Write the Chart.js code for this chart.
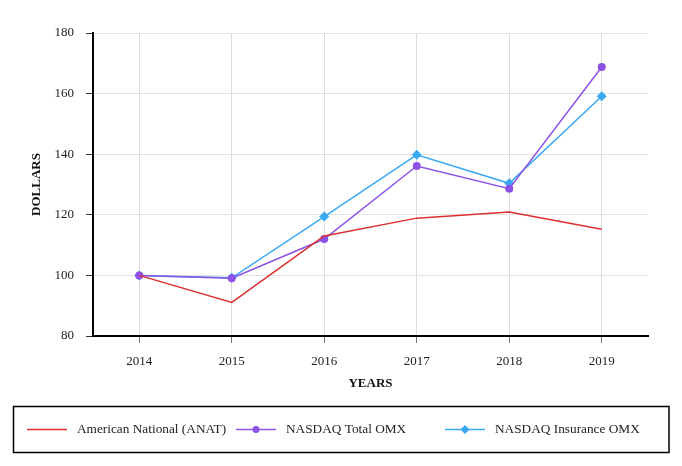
<!DOCTYPE html>
<html>
<head>
<meta charset="utf-8">
<style>
  html, body { margin: 0; padding: 0; background: #fff; }
  #wrap { width: 682px; height: 466px; }
</style>
<script src="https://cdn.jsdelivr.net/npm/chart.js@4.4.0/dist/chart.umd.min.js"></script>
</head>
<body>
<div id="wrap"><canvas id="myChart" width="682" height="466"></canvas></div>
<script>
// data
const years = ['2014', '2015', '2016', '2017', '2018', '2019'];
const anat = [100, 91.1, 113.0, 118.9, 120.9, 115.2];
const nasdaqTotal = [100, 99.1, 112.0, 136.1, 128.6, 168.8];
const nasdaqInsurance = [100, 99.2, 119.4, 139.8, 130.4, 159.1];
const yTicks = [80, 100, 120, 140, 160, 180];

const FONT = '"Liberation Serif", "Times New Roman", serif';
const RED = '#dc2f2f';
const PURPLE = '#8c52e6';
const BLUE = '#3aa9f2';

// legend in a box under the chart, drawn on the canvas
const boxLegend = {
    id: 'boxLegend',
    afterDraw(chart) {
        const ctx = chart.ctx;
        ctx.save();
        ctx.strokeStyle = '#000';
        ctx.lineWidth = 1.5;
        ctx.strokeRect(13.5, 406.5, 655.5, 46);

        const y = 429.5;
        chart.data.datasets.forEach((ds, i) => {
            const x0 = 27 + i * 209;
            ctx.strokeStyle = ds.borderColor;
            ctx.lineWidth = 1.5;
            ctx.beginPath();
            ctx.moveTo(x0, y);
            ctx.lineTo(x0 + 40, y);
            ctx.stroke();
            if (ds.pointRadius > 0) {
                ctx.fillStyle = ds.borderColor;
                const cx = x0 + 20;
                ctx.beginPath();
                if (ds.pointStyle === 'rectRot') {
                    ctx.moveTo(cx, y - 4.5);
                    ctx.lineTo(cx + 4.5, y);
                    ctx.lineTo(cx, y + 4.5);
                    ctx.lineTo(cx - 4.5, y);
                    ctx.closePath();
                } else {
                    ctx.arc(cx, y, 3.5, 0, Math.PI * 2);
                }
                ctx.fill();
            }
            ctx.fillStyle = '#222';
            ctx.font = '13.3px ' + FONT;
            ctx.textBaseline = 'middle';
            ctx.fillText(ds.label, x0 + 50, y);
        });
        ctx.restore();
    }
};

const ctx = document.getElementById('myChart').getContext('2d');
const myChart = new Chart(ctx, {
    type: 'line',
    data: {
        labels: years,
        datasets: [{
            label: 'American National (ANAT)',
            data: anat,
            borderColor: RED,
            backgroundColor: RED,
            borderWidth: 1.5,
            pointRadius: 0,
            tension: 0
        }, {
            label: 'NASDAQ Total OMX',
            data: nasdaqTotal,
            borderColor: PURPLE,
            backgroundColor: PURPLE,
            borderWidth: 1.5,
            pointStyle: 'circle',
            pointRadius: 4,
            pointBorderWidth: 0,
            tension: 0
        }, {
            label: 'NASDAQ Insurance OMX',
            data: nasdaqInsurance,
            borderColor: BLUE,
            backgroundColor: BLUE,
            borderWidth: 1.5,
            pointStyle: 'rectRot',
            pointRadius: 5,
            pointBorderWidth: 0,
            tension: 0
        }]
    },
    options: {
        responsive: false,
        animation: false,
        layout: {
            padding: { top: 33, right: 34, bottom: 70, left: 0 }
        },
        plugins: {
            legend: { display: false },
            tooltip: { enabled: false }
        },
        scales: {
            x: {
                offset: true,
                afterFit: s => { s.height = 60; },
                grid: {
                    color: '#dcdcdc',
                    tickColor: '#777',
                    tickLength: 7,
                    offset: false
                },
                border: { color: '#000', width: 2 },
                ticks: {
                    color: '#222',
                    font: { family: FONT, size: 13 },
                    padding: 11,
                    maxRotation: 0
                },
                title: {
                    display: true,
                    text: 'YEARS',
                    color: '#111',
                    font: { family: FONT, size: 13, weight: 'bold' },
                    padding: { top: 0, bottom: 5 }
                }
            },
            y: {
                min: 80,
                max: 180,
                afterFit: s => { s.width = 93; },
                afterBuildTicks: s => { s.ticks = yTicks.map(v => ({ value: v })); },
                grid: {
                    color: '#e2e2e2',
                    tickColor: '#333',
                    tickLength: 7
                },
                border: { color: '#000', width: 2 },
                ticks: {
                    color: '#222',
                    font: { family: FONT, size: 13 },
                    padding: 12
                },
                title: {
                    display: true,
                    text: 'DOLLARS',
                    color: '#111',
                    font: { family: FONT, size: 13, weight: 'bold' },
                    padding: { top: 29, bottom: 0 }
                }
            }
        }
    },
    plugins: [boxLegend]
});
</script>
</body>
</html>
